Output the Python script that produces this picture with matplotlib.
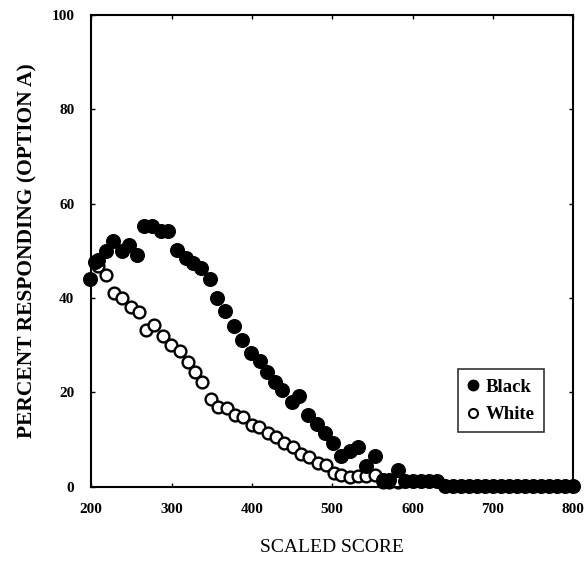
import matplotlib
matplotlib.use("Agg")
import matplotlib.pyplot as plt
from matplotlib.lines import Line2D

plt.rcParams.update({
    "font.family": ["Liberation Serif", "DejaVu Serif"],
    "figure.facecolor": "white",
    "axes.facecolor": "white",
})

# scaled score / percent responding option A
black_x = [198, 205, 209, 218, 227, 238, 247, 257, 266, 276, 287, 296, 307, 318,
           327, 337, 348, 357, 367, 378, 388, 399, 410, 419, 429, 438, 450, 459,
           470, 481, 491, 501, 511, 522, 532, 542, 553, 563, 571, 582,
           590, 600, 610, 620, 630, 640, 650, 660, 670, 680, 690, 700, 710,
           720, 730, 740, 750, 760, 770, 780, 790, 800]
black_y = [44.0, 47.7, 48.0, 50.0, 52.0, 50.0, 51.3, 49.2, 55.2, 55.2, 54.1, 54.1,
           50.2, 48.4, 47.4, 46.3, 44.0, 40.0, 37.3, 34.0, 31.0, 28.3, 26.7, 24.4,
           22.3, 20.5, 18.0, 19.3, 15.3, 13.2, 11.3, 9.2, 6.6, 7.5, 8.5, 4.4, 6.6,
           1.5, 1.5, 3.6,
           1.2, 1.2, 1.2, 1.2, 1.2, 0.2, 0.2, 0.2, 0.2, 0.2, 0.2, 0.2, 0.2,
           0.2, 0.2, 0.2, 0.2, 0.2, 0.2, 0.2, 0.2, 0.2]

white_x = [208, 218, 228, 239, 249, 259, 268, 278, 289, 299, 310, 320, 329, 338,
           349, 358, 369, 379, 389, 400, 409, 420, 430, 440, 451, 461, 471, 482,
           492, 502, 511, 522, 532, 542, 553, 563, 571, 582]
white_y = [46.7, 44.9, 41.0, 40.0, 38.2, 37.1, 33.3, 34.3, 32.0, 30.1, 28.7, 26.4,
           24.4, 22.1, 18.6, 17.0, 16.7, 15.3, 14.7, 13.1, 12.6, 11.4, 10.5, 9.3,
           8.5, 7.0, 6.4, 5.0, 4.7, 3.0, 2.5, 2.0, 2.2, 2.2, 2.5, 1.0, 1.0, 1.1]

fig = plt.figure(figsize=(5.88, 5.74), dpi=100)
ax = fig.add_axes([0.155, 0.152, 0.820, 0.822])

ax.plot(white_x, white_y, "o", ms=8.5, mfc="white", mec="black", mew=1.7,
        ls="none", zorder=2, clip_on=False)
ax.plot(black_x, black_y, "o", ms=9.8, mfc="black", mec="black",
        ls="none", zorder=3, clip_on=False)

ax.set_xlim(200, 800)
ax.set_ylim(0, 100)
ax.set_xticks(range(200, 801, 100))
ax.set_yticks(range(0, 101, 20))
ax.tick_params(direction="in", length=3, width=1, top=True, right=True,
               labelsize=11, pad=12)
for lab in ax.get_xticklabels() + ax.get_yticklabels():
    lab.set_fontweight("bold")
for sp in ax.spines.values():
    sp.set_linewidth(1.5)

ax.set_xlabel("SCALED SCORE", fontsize=14, labelpad=16)
ax.set_ylabel("PERCENT RESPONDING (OPTION A)", fontsize=15.5,
              fontweight="bold", labelpad=10)

handles = [
    Line2D([], [], marker="o", ls="none", ms=7.5, mfc="black", mec="black"),
    Line2D([], [], marker="o", ls="none", ms=6.5, mfc="white", mec="black", mew=1.5),
]
leg = ax.legend(handles, ["Black", "White"], loc="lower left",
                bbox_to_anchor=(0.76, 0.115), fontsize=13.5, frameon=True,
                fancybox=False, handlelength=0.6, handletextpad=0.4,
                borderpad=0.5, labelspacing=0.55, borderaxespad=0)
leg.get_frame().set_edgecolor("black")
leg.get_frame().set_linewidth(1.2)
for t in leg.get_texts():
    t.set_fontweight("bold")

fig.savefig("out.png", dpi=100)
